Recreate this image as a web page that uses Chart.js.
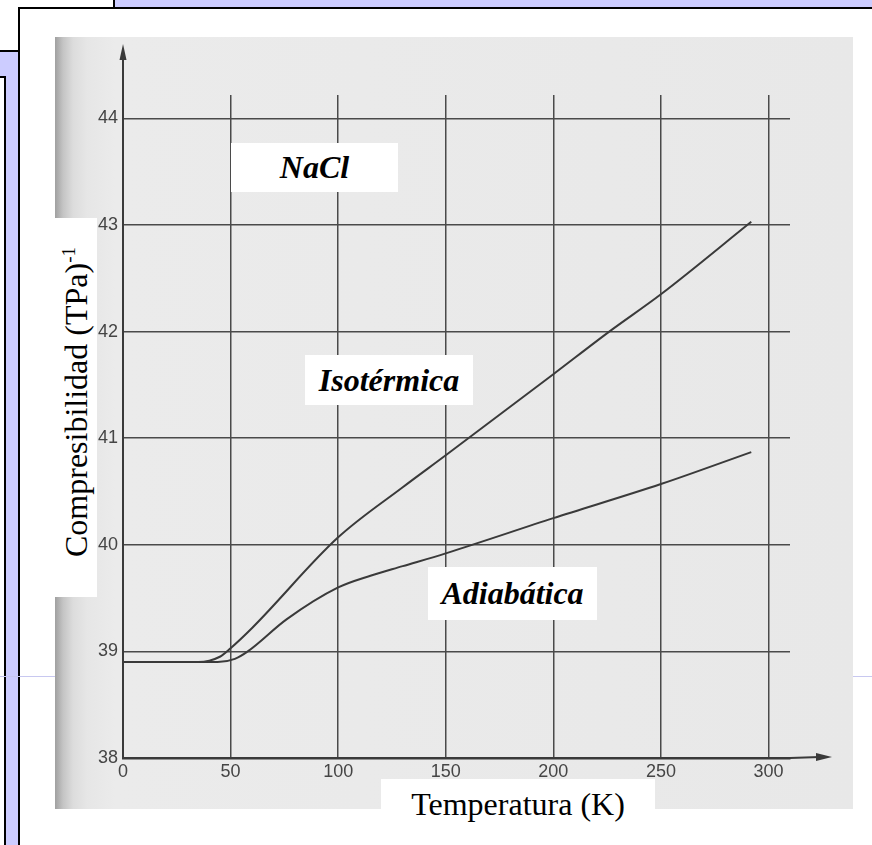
<!DOCTYPE html>
<html>
<head>
<meta charset="utf-8">
<script src="https://cdn.jsdelivr.net/npm/chart.js@4.4.0/dist/chart.umd.min.js"></script>
<style>
  body { margin: 0; background: #fff; }
  #wrap { position: relative; width: 872px; height: 845px; overflow: hidden; background: #fff; }
  .abs { position: absolute; box-sizing: border-box; }
  .lab { position: absolute; background: #fff; font-family: 'Liberation Serif', 'Times New Roman', serif;
         font-weight: bold; font-style: italic; font-size: 32px; color: #000;
         display: flex; align-items: center; justify-content: center; }
  canvas { position: absolute; left: 0; top: 0; }
</style>
</head>
<body>
<div id="wrap">
  <!-- marco de la diapositiva -->
  <div class="abs" style="left:113px;top:0;width:759px;height:9px;background:#ccccff;border-left:2px solid #000;border-bottom:2px solid #000"></div>
  <div class="abs" style="left:18px;top:7px;width:854px;height:838px;border-top:2px solid #000;border-left:2px solid #000"></div>
  <div class="abs" style="left:0;top:50px;width:20px;height:795px;background:#ccccff;border-top:2px solid #000;border-right:2px solid #000"></div>
  <div class="abs" style="left:0;top:76px;width:6px;height:769px;background:#fff;border-top:2px solid #000;border-right:2px solid #000"></div>
  <div class="abs" style="left:0;top:676px;width:56px;height:1px;background:#c8c8f0"></div>
  <div class="abs" style="left:853px;top:676px;width:19px;height:1px;background:#c8c8f0"></div>
  <!-- fondo escaneado -->
  <div class="abs" style="left:55px;top:37px;width:798px;height:772px;
       background:linear-gradient(to right,#a0a0a0 0px,#c4c4c4 8px,#dcdcdc 18px,#e6e6e6 32px,#ebebeb 60px,#e8e8e8 100%)"></div>

  <canvas id="grafico" width="872" height="845"></canvas>

  <div class="lab" style="left:231px;top:143px;width:167px;height:49px">NaCl</div>
  <div class="lab" style="left:305px;top:355px;width:168px;height:50px">Isotérmica</div>
  <div class="lab" style="left:428px;top:567px;width:169px;height:53px">Adiabática</div>

  <div class="abs" style="left:55px;top:218px;width:42px;height:379px;background:#fff"></div>
  <div class="abs" style="left:76px;top:402px;width:0;height:0">
    <div style="position:absolute;left:0;top:0;transform:translate(-50%,-50%) rotate(-90deg);white-space:nowrap;
         font-family:'Liberation Serif','Times New Roman',serif;font-size:32px;color:#000">Compresibilidad (TPa)<sup style="font-size:19px">-1</sup></div>
  </div>

  <div class="abs" style="left:381px;top:779px;width:274px;height:66px;background:#fff"></div>
  <div class="abs" style="left:381px;top:786px;width:274px;text-align:center;
       font-family:'Liberation Serif','Times New Roman',serif;font-size:32px;color:#000">Temperatura (K)</div>
</div>

<script>
document.addEventListener('DOMContentLoaded', function () {

  // Curva isotérmica (T en K, compresibilidad inversa en TPa)
  var isoTemp = [0, 35, 45, 50, 60, 100, 130, 150, 200, 226, 250, 292];
  var isoComp = [38.9, 38.9, 38.95, 39.03, 39.22, 40.07, 40.54, 40.84, 41.6, 42.0, 42.35, 43.03];

  // Curva adiabática
  var adiTemp = [0, 44, 52, 58, 76, 100, 115, 130, 150, 200, 250, 292];
  var adiComp = [38.9, 38.9, 38.93, 39.0, 39.3, 39.6, 39.71, 39.8, 39.92, 40.25, 40.57, 40.87];

  // Marcas de los ejes
  var xTicks = [0, 50, 100, 150, 200, 250, 300];
  var yTicks = [38, 39, 40, 41, 42, 43, 44];

  function puntos(xs, ys) {
    return xs.map(function (x, i) { return { x: x, y: ys[i] }; });
  }

  var tinta = '#3a3a3a';
  var fuenteTicks = { family: "'Liberation Sans Narrow', 'Arial Narrow', 'Liberation Sans', sans-serif", size: 18 };

  // flechas de los ejes
  var flechas = {
    id: 'flechas',
    afterDraw: function (chart) {
      var c = chart.ctx, a = chart.chartArea;
      var x0 = chart.scales.x.getPixelForValue(0);
      var y0 = chart.scales.y.getPixelForValue(38);
      c.save();
      c.strokeStyle = tinta; c.fillStyle = tinta; c.lineWidth = 2;
      c.beginPath(); c.moveTo(x0, a.top); c.lineTo(x0, 56); c.stroke();
      c.beginPath(); c.moveTo(x0, 44); c.lineTo(x0 - 3.5, 60); c.lineTo(x0 + 3.5, 60); c.closePath(); c.fill();
      c.beginPath(); c.moveTo(a.right, y0); c.lineTo(820, y0 - 1); c.stroke();
      c.beginPath(); c.moveTo(832, y0 - 1); c.lineTo(816, y0 - 5); c.lineTo(816, y0 + 3); c.closePath(); c.fill();
      c.restore();
    }
  };

  var config = {
    type: 'line',
    data: {
      datasets: [{
        label: 'Isotérmica',
        data: puntos(isoTemp, isoComp),
        borderColor: tinta,
        borderWidth: 2,
        pointRadius: 0,
        fill: false,
        cubicInterpolationMode: 'monotone'
      }, {
        label: 'Adiabática',
        data: puntos(adiTemp, adiComp),
        borderColor: tinta,
        borderWidth: 2,
        pointRadius: 0,
        fill: false,
        cubicInterpolationMode: 'monotone'
      }]
    },
    options: {
      responsive: false,
      animation: false,
      layout: { padding: { left: 0, top: 95, right: 82, bottom: 0 } },
      plugins: { legend: { display: false }, tooltip: { enabled: false } },
      scales: {
        x: {
          type: 'linear',
          min: 0,
          max: 310,
          afterFit: function (s) { s.height = 87; },
          afterBuildTicks: function (s) { s.ticks = xTicks.map(function (v) { return { value: v }; }); },
          grid: { color: '#4a4a4a', lineWidth: 1.5, drawTicks: false },
          border: { color: tinta, width: 2.5 },
          ticks: { color: '#454545', font: fuenteTicks, padding: 3, maxRotation: 0 }
        },
        y: {
          type: 'linear',
          min: 38,
          max: 44.22,
          afterFit: function (s) { s.width = 123; },
          afterBuildTicks: function (s) { s.ticks = yTicks.map(function (v) { return { value: v }; }); },
          grid: { color: '#4a4a4a', lineWidth: 1.5, drawTicks: false },
          border: { color: tinta, width: 2 },
          ticks: { color: '#454545', font: fuenteTicks, padding: 5 }
        }
      }
    },
    plugins: [flechas]
  };

  new Chart(document.getElementById('grafico').getContext('2d'), config);
});
</script>
</body>
</html>
